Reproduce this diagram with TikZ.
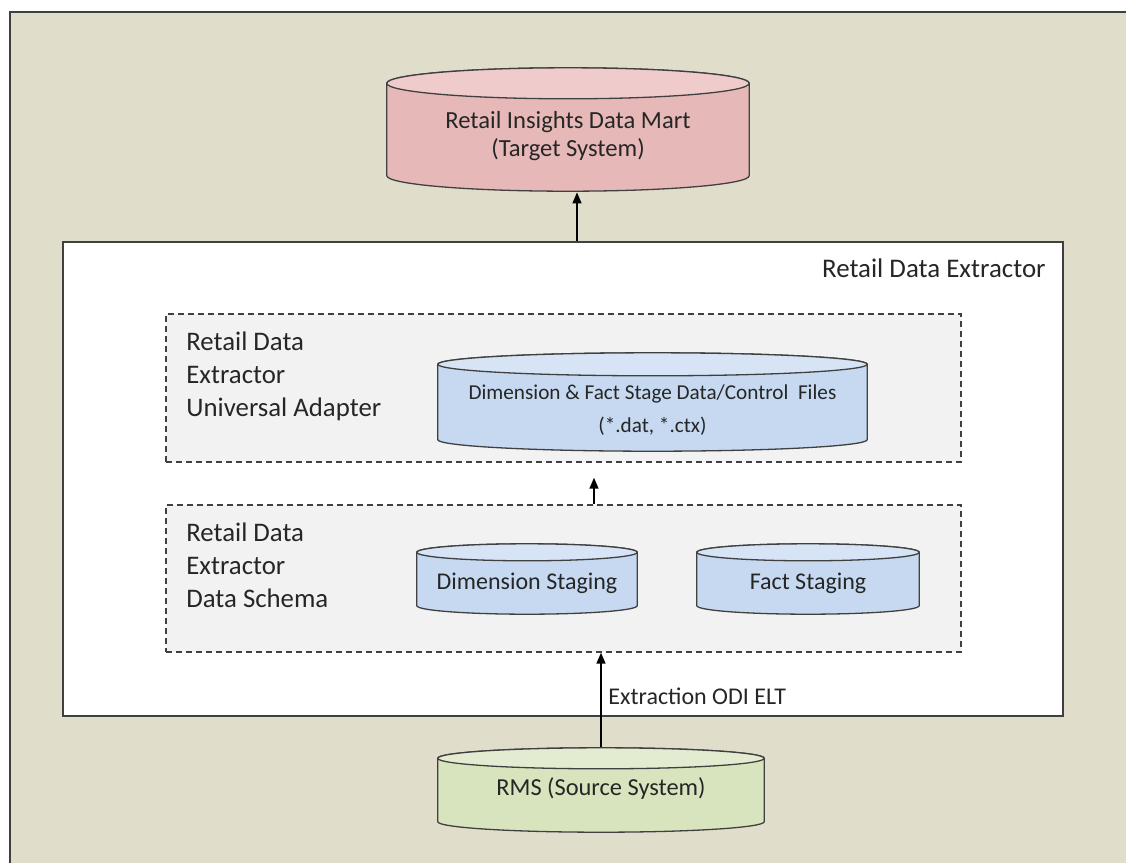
\documentclass[tikz,border=0pt]{standalone}
\usepackage{fontspec}
\setmainfont{Carlito}
\usetikzlibrary{calc}
\usetikzlibrary{arrows.meta}

\definecolor{beige}{HTML}{E0DDCB}
\definecolor{rose}{HTML}{E6B9B8}
\definecolor{roseclair}{HTML}{EFCBCB}
\definecolor{bleu}{HTML}{C6D9F1}
\definecolor{bleuclair}{HTML}{D6E4F5}
\definecolor{vert}{HTML}{D7E4BD}
\definecolor{vertclair}{HTML}{E3ECD0}
\definecolor{grisfond}{HTML}{F2F2F2}
\definecolor{trait}{HTML}{404040}
\definecolor{texte}{HTML}{262626}

\begin{document}
\begin{tikzpicture}[x=0.5pt,y=-0.5pt,
        every node/.style={text=texte, font=\fontsize{12}{14}\selectfont, align=center},%texte des noeuds
        cuve/.style n args={3}{inner sep=0pt,%base de donnees : corps, dessus, demi-hauteur de l'ellipse
            path picture={
                \draw[fill=#1, draw=trait, line width=0.65pt]
                    let \p1=(path picture bounding box.north west), \p2=(path picture bounding box.south east) in
                    (\x1+0.4pt,\y1-#3-0.4pt) -- (\x1+0.4pt,\y2+#3+0.4pt)
                    arc[start angle=180, end angle=360, x radius={(\x2-\x1)/2-0.4pt}, y radius=#3]
                    -- (\x2-0.4pt,\y1-#3-0.4pt)
                    arc[start angle=0, end angle=180, x radius={(\x2-\x1)/2-0.4pt}, y radius=#3] -- cycle;
                \draw[fill=#2, draw=trait, line width=0.65pt]
                    let \p1=(path picture bounding box.north west), \p2=(path picture bounding box.south east) in
                    ({(\x1+\x2)/2},\y1-#3-0.4pt) ellipse[x radius={(\x2-\x1)/2-0.4pt}, y radius=#3];
            }},
        cadre/.style={draw=trait, dash pattern=on 3pt off 2pt, line width=0.7pt, fill=grisfond, minimum width=397.5pt, inner sep=0pt},%cadres en tirets
        etiquette/.style={anchor=west, align=left, inner sep=0pt, font=\fontsize{13.4}{16.5}\selectfont},
        fleche/.style={-{Triangle[length=5.5pt,width=4.5pt]}, line width=0.75pt, draw=black}]
    \useasboundingbox (0,0) rectangle (1126,863);
    \fill[white] (0,0) rectangle (1126,863);
    \begin{scope}
        \clip (0,0) rectangle (1126,863);
        \draw[fill=beige, draw=trait, line width=1.2pt] (10,12) rectangle (1140,880);
    \end{scope}

    \node[cuve={rose}{roseclair}{7.75pt}, minimum width=182pt, minimum height=62.5pt, text height=29.5pt, text depth=2.5pt, font=\fontsize{12.3}{14}\selectfont] (mart) at (568,129.5) {Retail Insights Data Mart\\(Target System)};

    \node[draw=trait, fill=white, line width=0.7pt, minimum width=500pt, minimum height=237pt, inner sep=0pt] (rde) at (563,479) {};
    \node at (1046,268) [anchor=east, inner sep=0pt, font=\fontsize{13.45}{14}\selectfont] (rdelabel) {Retail Data Extractor};

    \node[cadre, minimum height=74pt] (ua) at (563.5,388) {};
    \node[cadre, minimum height=73.5pt] (schema) at (563.5,578.5) {};

    \node at (186,376) [etiquette] (ualabel) {Retail Data\\Extractor\\Universal Adapter};
    \node at (186,565) [etiquette] (schemalabel) {Retail Data\\Extractor\\Data Schema};

    \node[cuve={bleu}{bleuclair}{5.75pt}, minimum width=215.5pt, minimum height=50pt, text height=32.5pt, text depth=2.5pt, font=\fontsize{10.6}{16.5}\selectfont] (files) at (652.5,402) {Dimension \& Fact Stage Data/Control\ \ Files\\(*.dat, *.ctx)};
    \node[cuve={bleu}{bleuclair}{4.25pt}, minimum width=111pt, minimum height=36pt, text height=12pt, text depth=2pt] (dimstg) at (527,579) {Dimension Staging};
    \node[cuve={bleu}{bleuclair}{4.25pt}, minimum width=112pt, minimum height=36pt, text height=12pt, text depth=2pt] (factstg) at (808,579) {Fact Staging};

    \node[cuve={vert}{vertclair}{5.25pt}, minimum width=164pt, minimum height=43pt, text height=7.5pt, text depth=2.5pt, font=\fontsize{12.2}{14}\selectfont] (rms) at (601,790) {RMS (Source System)};
    \node at (608,696) [anchor=west, inner sep=0pt] (elt) {Extraction ODI ELT};

    \draw[fleche] ([xshift=7pt]rde.north) -- ([xshift=7pt]rde.north |- mart.south);
    \draw[fleche, shorten >=7.5pt] ([xshift=15.25pt]schema.north) -- ([xshift=15.25pt]schema.north |- ua.south);
    \draw[fleche] (rms.north) -- (rms.north |- schema.south);
\end{tikzpicture}
\end{document}
